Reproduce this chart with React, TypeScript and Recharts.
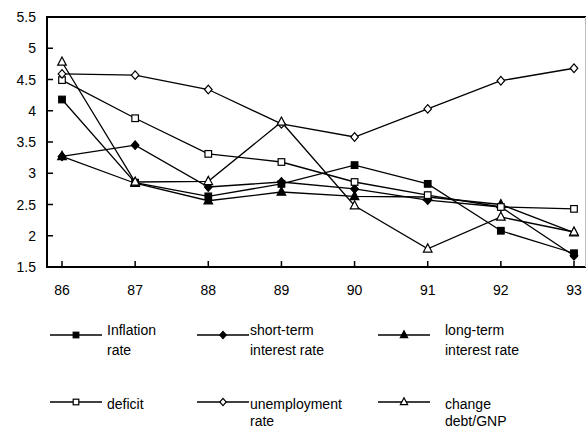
import { LineChart, Line, XAxis, YAxis } from 'recharts';

// values
const years = [86, 87, 88, 89, 90, 91, 92, 93];
const yTicks = [1.5, 2, 2.5, 3, 3.5, 4, 4.5, 5, 5.5];

const inflation = [4.18, 2.85, 2.63, 2.83, 3.13, 2.83, 2.08, 1.72];
const shortTerm = [3.27, 3.45, 2.78, 2.86, 2.75, 2.57, 2.46, 1.68];
const longTerm = [3.27, 2.84, 2.56, 2.7, 2.63, 2.62, 2.5, 2.05];
const deficit = [4.49, 3.88, 3.31, 3.18, 2.86, 2.65, 2.46, 2.43];
const unemployment = [4.59, 4.57, 4.34, 3.79, 3.58, 4.03, 4.48, 4.68];
const changeDebt = [4.78, 2.86, 2.87, 3.82, 2.48, 1.79, 2.3, 2.06];

const seriesNames = [
    'Inflation rate',
    'short-term interest rate',
    'long-term interest rate',
    'deficit',
    'unemployment rate',
    'change debt/GNP',
];
const seriesValues = [inflation, shortTerm, longTerm, deficit, unemployment, changeDebt];
const seriesKeys = ['inflation', 'shortTerm', 'longTerm', 'deficit', 'unemployment', 'changeDebt'];
const markerShapes = ['squareFilled', 'diamondFilled', 'triangleFilled', 'squareOpen', 'diamondOpen', 'triangleOpen'];

const data = years.map((year, i) => {
    const row: Record<string, number> = { year };
    seriesKeys.forEach((k, s) => { row[k] = seriesValues[s][i]; });
    return row;
});

const FONT = '"Liberation Sans", Arial, Helvetica, sans-serif';
const W = 586;
const H = 430;
const MARGIN = { top: 17, right: 0, left: 0, bottom: 133 };
const Y_AXIS_W = 47;
const X_AXIS_H = 30;

function Marker({ cx, cy, shape, scale = 1 }: { cx?: number; cy?: number; shape: string; scale?: number }) {
    if (cx == null || cy == null) return null;
    const open = shape.endsWith('Open');
    const fill = open ? '#fff' : '#000';
    const common = { fill, stroke: '#000', strokeWidth: 1.2 };
    const s = scale;
    if (shape.startsWith('square')) {
        return <rect x={cx - 3.3 * s} y={cy - 3.3 * s} width={6.6 * s} height={6.6 * s} {...common} />;
    }
    if (shape.startsWith('diamond')) {
        return (
            <polygon
                points={`${cx},${cy - 4.3 * s} ${cx + 3.8 * s},${cy} ${cx},${cy + 4.3 * s} ${cx - 3.8 * s},${cy}`}
                {...common}
            />
        );
    }
    return (
        <polygon
            points={`${cx},${cy - 5 * s} ${cx + 4.3 * s},${cy + 3.2 * s} ${cx - 4.3 * s},${cy + 3.2 * s}`}
            {...common}
        />
    );
}

// ticks point inward, like the original plot
function XTick({ x, y, payload }: any) {
    return (
        <g>
            <rect x={x - 0.75} y={y - 6} width={1.5} height={6} fill="#000" />
            <text x={x} y={y + 28} textAnchor="middle" fill="#000" fontSize={14} fontFamily={FONT}>
                {payload.value}
            </text>
        </g>
    );
}

function YTick({ x, y, payload }: any) {
    return (
        <g>
            <rect x={x} y={y - 0.75} width={6} height={1.5} fill="#000" />
            <text x={x - 11} y={y + 5} textAnchor="end" fill="#000" fontSize={14} fontFamily={FONT}>
                {payload.value}
            </text>
        </g>
    );
}

// legend layout (3 columns x 2 rows)
const legendCols = [{ line: 50, text: 107 }, { line: 197, text: 250 }, { line: 378, text: 445 }];
const legendRows = [
    { top: 320, lineY: 15, lh: 20 },
    { top: 396, lineY: 6, lh: 17 },
];

function LegendBlock() {
    return (
        <>
            {seriesNames.map((name, i) => {
                const col = legendCols[i % 3];
                const row = legendRows[Math.floor(i / 3)];
                const sp = name.indexOf(' ');
                const lines = sp > 0 ? [name.slice(0, sp), name.slice(sp + 1)] : [name];
                return (
                    <div key={name}>
                        <svg
                            width={52}
                            height={12}
                            style={{ position: 'absolute', left: col.line, top: row.top + row.lineY - 6 }}
                        >
                            <path d="M0,6 H52" stroke="#000" strokeWidth={1.3} />
                            <Marker cx={26} cy={6} shape={markerShapes[i]} scale={0.85} />
                        </svg>
                        <div
                            style={{
                                position: 'absolute',
                                left: col.text,
                                top: row.top,
                                fontSize: 14,
                                lineHeight: `${row.lh}px`,
                                color: '#000',
                                whiteSpace: 'nowrap',
                            }}
                        >
                            {lines.map((l) => <div key={l}>{l}</div>)}
                        </div>
                    </div>
                );
            })}
        </>
    );
}

export default function App() {
    const plotLeft = MARGIN.left + Y_AXIS_W;
    const plotTop = MARGIN.top;
    const plotRight = W - MARGIN.right;
    const plotBottom = H - MARGIN.bottom - X_AXIS_H;
    return (
        <div
            style={{
                position: 'absolute',
                left: 0,
                top: 0,
                width: W,
                height: H,
                background: '#fff',
                fontFamily: FONT,
            }}
        >
            <LineChart width={W} height={H} data={data} margin={MARGIN}>
                <XAxis
                    dataKey="year"
                    type="number"
                    domain={[86, 93]}
                    ticks={years}
                    padding={{ left: 15, right: 12 }}
                    height={X_AXIS_H}
                    axisLine={false}
                    tickLine={false}
                    tickSize={0}
                    tickMargin={0}
                    tick={<XTick />}
                />
                <YAxis
                    type="number"
                    domain={[1.5, 5.5]}
                    ticks={yTicks}
                    width={Y_AXIS_W}
                    axisLine={false}
                    tickLine={false}
                    tickSize={0}
                    tickMargin={0}
                    interval={0}
                    tick={<YTick />}
                />
                {seriesKeys.map((key, i) => (
                    <Line
                        key={key}
                        dataKey={key}
                        name={seriesNames[i]}
                        type="linear"
                        stroke="#000"
                        strokeWidth={1.3}
                        isAnimationActive={false}
                        dot={(p: any) => <Marker key={`${key}-${p.index}`} cx={p.cx} cy={p.cy} shape={markerShapes[i]} />}
                        activeDot={false}
                    />
                ))}
            </LineChart>
            {/* plot frame as filled bars (left, bottom, top) plus a faint right edge */}
            <div style={{ position: 'absolute', left: plotLeft - 1, top: plotTop - 1, width: 2, height: plotBottom - plotTop + 2, background: '#000' }} />
            <div style={{ position: 'absolute', left: plotLeft - 1, top: plotBottom - 1, width: plotRight - plotLeft + 1, height: 2, background: '#000' }} />
            <div style={{ position: 'absolute', left: plotLeft - 1, top: plotTop - 1, width: plotRight - plotLeft + 1, height: 2, background: '#000' }} />
            <div style={{ position: 'absolute', left: plotRight - 1, top: plotTop, width: 1, height: plotBottom - plotTop, background: '#bbb' }} />
            <LegendBlock />
        </div>
    );
}
